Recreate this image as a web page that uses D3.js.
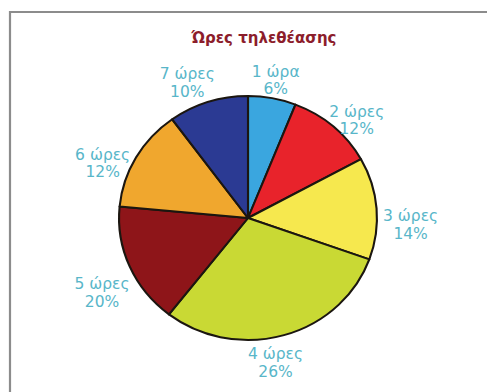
<!DOCTYPE html>
<html>
<head>
<meta charset="utf-8">
<script src="https://cdn.jsdelivr.net/npm/d3@7"></script>
<style>
  html, body { margin: 0; padding: 0; background: #ffffff; }
  svg { display: block; }
</style>
</head>
<body>
<svg id="chart" width="487" height="392"></svg>
<script>
// ---- data ----
const categories = ["1 ώρα", "2 ώρες", "3 ώρες", "4 ώρες", "5 ώρες", "6 ώρες", "7 ώρες"];
// percentages printed on the chart
const percentLabels = [6, 12, 14, 26, 20, 12, 10];
// slice shares as they are drawn in the picture (measured angles, in %)
const sliceShares = [6, 11, 13.5, 30, 16, 13.5, 10];
const sliceColors = ["#3aa6df", "#e8232b", "#f6e84e", "#c9d934", "#8e1519", "#f0a72e", "#2b3a93"];
const title = "Ώρες τηλεθέασης";

// ---- layout ----
const W = 487, H = 392;
const cx = 248, cy = 218;
const radius = 122;
const xStretch = 1.057;
const labelRadius = [140, 142, 154, 147, 157, 148, 147];
const labelAngleShiftDeg = [0, 5, 7, 6, -5, -8, -5];

const svg = d3.select("#chart");

// frame
svg.append("path")
  .attr("d", `M10,${H + 5} L10,12 L${W + 5},12`)
  .attr("fill", "none")
  .attr("stroke", "#8c8c8c")
  .attr("stroke-width", 2.2);

// title
svg.append("text")
  .attr("x", 264)
  .attr("y", 43)
  .attr("text-anchor", "middle")
  .attr("font-family", "DejaVu Sans, sans-serif")
  .attr("font-size", 15)
  .attr("font-weight", "bold")
  .attr("fill", "#8c1d2b")
  .text(title);

const pie = d3.pie().sort(null).value(d => d.share);
const data = categories.map((c, i) => ({ cat: c, pct: percentLabels[i], share: sliceShares[i], color: sliceColors[i], i }));
const arcs = pie(data);

const arc = d3.arc().innerRadius(0).outerRadius(radius);

const g = svg.append("g")
  .attr("transform", `translate(${cx},${cy}) scale(${xStretch},1)`);

g.selectAll("path.slice")
  .data(arcs)
  .enter().append("path")
  .attr("class", "slice")
  .attr("d", arc)
  .attr("fill", d => d.data.color)
  .attr("stroke", "#1b1610")
  .attr("stroke-width", 2)
  .attr("stroke-linejoin", "round");

// labels
const lbl = svg.append("g").attr("transform", `translate(${cx},${cy})`);
arcs.forEach((d, i) => {
  const r = labelRadius[i];
  const a = (d.startAngle + d.endAngle) / 2 + labelAngleShiftDeg[i] * Math.PI / 180;
  const x = Math.sin(a) * r * xStretch, y = -Math.cos(a) * r;
  const common = t => t
    .attr("text-anchor", "middle")
    .attr("font-family", "DejaVu Sans, sans-serif")
    .attr("font-size", 15.5)
    .attr("fill", "#58b6c9");
  lbl.append("text").call(common).attr("x", x).attr("y", y - 3.5).text(d.data.cat);
  lbl.append("text").call(common).attr("x", x).attr("y", y + 14).text(d.data.pct + "%");
});
</script>
</body>
</html>
